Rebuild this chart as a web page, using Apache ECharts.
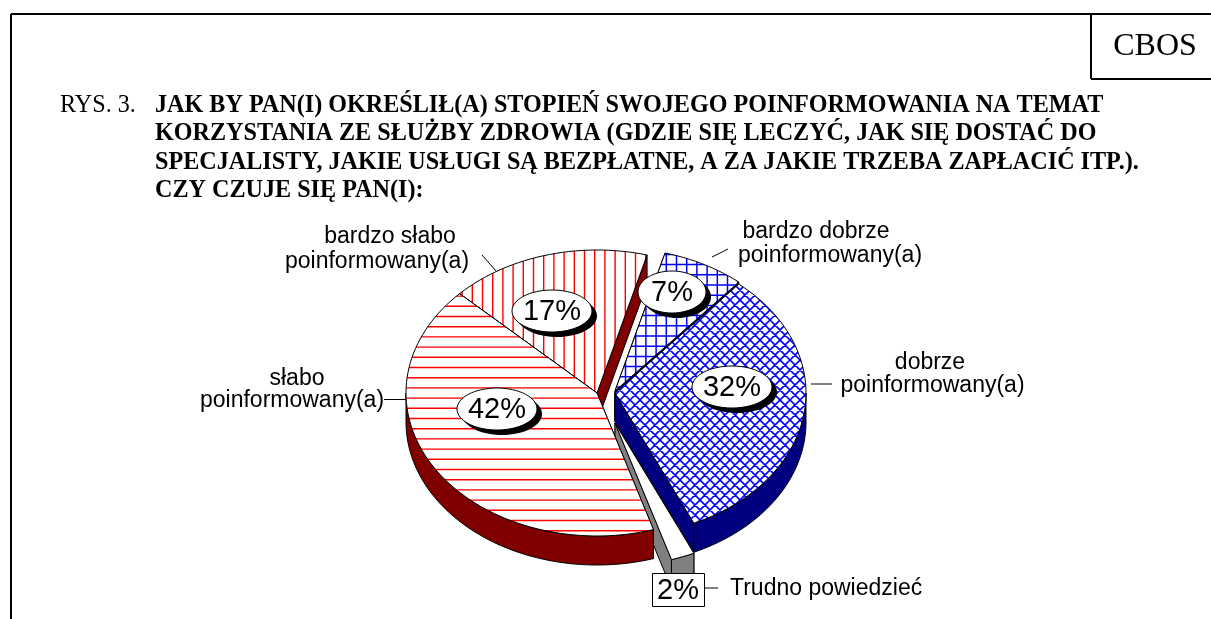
<!DOCTYPE html>
<html>
<head>
<meta charset="utf-8">
<style>
  html, body { margin: 0; padding: 0; background: #fff; }
  #chart { width: 1211px; height: 619px; }
</style>
<script src="https://cdn.jsdelivr.net/npm/echarts@6/dist/echarts.min.js"></script>
</head>
<body>
<div id="chart"></div>
<script>
// dane (kolejność zgodna z ruchem wskazówek zegara)
const categories = ['bardzo dobrze poinformowany(a)', 'dobrze poinformowany(a)', 'Trudno powiedzieć', 'słabo poinformowany(a)', 'bardzo słabo poinformowany(a)']
const values = [7, 32, 2, 42, 17]
const titleLines = [
  'JAK BY PAN(I) OKREŚLIŁ(A) STOPIEŃ SWOJEGO POINFORMOWANIA NA TEMAT',
  'KORZYSTANIA ZE SŁUŻBY ZDROWIA (GDZIE SIĘ LECZYĆ, JAK SIĘ DOSTAĆ DO',
  'SPECJALISTY, JAKIE USŁUGI SĄ BEZPŁATNE, A ZA JAKIE TRZEBA ZAPŁACIĆ ITP.).',
  'CZY CZUJE SIĘ PAN(I):'
]

// geometria elipsy i wysunięcia wycinków
const radiusX = 191
const radiusY = 143
const depth = 29
const startAngle = 15.2
const centers = [[615, 391], [615, 393], [615, 423], [597, 393], [597, 393]]
const sideColors = ['#000080', '#000080', '#808080', '#800000', '#800000']
const drawOrder = [0, 4, 2, 1, 3]

// szrafury jako powtarzalne wzorki
const makeHatch = (color, size, lineWidth, draw) => {
  const canvas = document.createElement('canvas')
  canvas.width = size
  canvas.height = size
  const ctx = canvas.getContext('2d')
  ctx.fillStyle = '#fff'
  ctx.fillRect(0, 0, size, size)
  ctx.strokeStyle = color
  ctx.lineWidth = lineWidth
  ctx.beginPath()
  draw(ctx, size)
  ctx.stroke()
  return { image: canvas, repeat: 'repeat' }
}
const hLines = (ctx, size, phase) => {
  for (let i = 0; i < 6; i++) {
    const y = phase + i * size / 5
    ctx.moveTo(0, y)
    ctx.lineTo(size, y)
  }
}
const vLines = (ctx, size, phase) => {
  for (let i = 0; i < 6; i++) {
    const x = phase + i * size / 5
    ctx.moveTo(x, 0)
    ctx.lineTo(x, size)
  }
}
const diagLines = (ctx, size) => {
  for (let i = -4; i <= 4; i++) {
    const d = i * size / 2
    ctx.moveTo(d, 0)
    ctx.lineTo(d + size, size)
    ctx.moveTo(d + size, 0)
    ctx.lineTo(d, size)
  }
}
const fills = [
  makeHatch('#0000ff', 51, 1.5, (c, s) => { hLines(c, s, 9.6 - 10.2); vLines(c, s, 3.3) }),
  makeHatch('#0000ff', 20, 1.6, diagLines),
  '#ffffff',
  makeHatch('#ff0000', 51, 1.4, (c, s) => hLines(c, s, 0.3)),
  makeHatch('#ff0000', 51, 1.4, (c, s) => vLines(c, s, 3.1))
]

// kąty wycinków liczone z wartości
const total = values.reduce((a, b) => a + b, 0)
const angles = []
let acc = startAngle
values.forEach((v) => {
  angles.push([acc, acc + v / total * 360])
  acc += v / total * 360
})

const onEllipse = (c, t, dy) => {
  const rad = t * Math.PI / 180
  return [c[0] + radiusX * Math.sin(rad), c[1] - radiusY * Math.cos(rad) + (dy || 0)]
}
const arcPoints = (c, t0, t1, dy) => {
  const pts = []
  const steps = Math.max(2, Math.ceil((t1 - t0) / 2))
  for (let i = 0; i <= steps; i++) {
    pts.push(onEllipse(c, t0 + (t1 - t0) * i / steps, dy))
  }
  return pts
}
const poly = (points, fill) => ({
  type: 'polygon',
  shape: { points },
  style: { fill, stroke: '#000', lineWidth: 1 }
})

const renderSlice = (params, api) => {
  const i = api.value(0)
  const c = centers[i]
  const [t0, t1] = angles[i]
  const side = sideColors[i]
  const children = []
  // boczne ścianki przy cięciach
  ;[t0, t1].forEach((t) => {
    const p = onEllipse(c, t)
    children.push(poly([c, p, [p[0], p[1] + depth], [c[0], c[1] + depth]], side))
  })
  // zewnętrzna ścianka, tylko przednia część
  const a = Math.max(t0, 90)
  const b = Math.min(t1, 270)
  if (b > a) {
    const top = arcPoints(c, a, b, 0)
    const bottom = arcPoints(c, a, b, depth).reverse()
    children.push(poly(top.concat(bottom), side))
  }
  // wierzch wycinka
  children.push(poly([c].concat(arcPoints(c, t0, t1, 0)), fills[i]))
  return { type: 'group', children }
}

// etykiety procentowe w dymkach
const bubbles = [
  { i: 0, x: 672, y: 292, rx: 34 },
  { i: 1, x: 732, y: 387, rx: 40 },
  { i: 3, x: 497, y: 409, rx: 40 },
  { i: 4, x: 552, y: 311, rx: 40 }
]
const textStyle = (text, x, y, extra) => ({
  type: 'text',
  x,
  y,
  silent: true,
  style: Object.assign({
    text,
    fill: '#000',
    font: '23px "Liberation Sans"',
    align: 'center',
    verticalAlign: 'middle'
  }, extra)
})
const bubbleFont = { font: '29px "Liberation Sans"' }
const bubbleGraphics = []
bubbles.forEach((b) => {
  bubbleGraphics.push({ type: 'ellipse', silent: true, shape: { cx: b.x + 5, cy: b.y + 5, rx: b.rx, ry: 21 }, style: { fill: '#000' } })
  bubbleGraphics.push({ type: 'ellipse', silent: true, shape: { cx: b.x, cy: b.y, rx: b.rx, ry: 21 }, style: { fill: '#fff', stroke: '#000', lineWidth: 1 } })
  bubbleGraphics.push(textStyle(values[b.i] + '%', b.x, b.y + 1, bubbleFont))
})

const leader = (x1, y1, x2, y2) => ({
  type: 'line',
  silent: true,
  shape: { x1, y1, x2, y2 },
  style: { stroke: '#000', lineWidth: 1 }
})
const rule = (x1, y1, x2, y2) => ({
  type: 'line',
  silent: true,
  shape: { x1, y1, x2, y2 },
  style: { stroke: '#000', lineWidth: 2 }
})

const titleFont = { font: 'bold 24.15px "Liberation Serif"', align: 'left' }
const elements = [
  rule(11, 14, 1211, 14),
  rule(11, 14, 11, 619),
  rule(1091, 14, 1091, 79),
  rule(1091, 79, 1211, 79),
  textStyle('CBOS', 1155, 47, { font: '32px "Liberation Serif"' }),
  textStyle('RYS. 3.', 60, 106, { font: '24.15px "Liberation Serif"', align: 'left' })
]
titleLines.forEach((line, i) => {
  elements.push(textStyle(line, 155, [106, 134, 163, 191][i], titleFont))
})
elements.push(
  textStyle('bardzo słabo', 390, 237),
  textStyle('poinformowany(a)', 377, 262),
  leader(482, 255, 496, 271),
  textStyle('bardzo dobrze', 816, 232),
  textStyle('poinformowany(a)', 830, 256),
  leader(712, 257, 728, 249),
  textStyle('dobrze', 930, 363),
  textStyle('poinformowany(a)', 932.5, 386),
  leader(811, 384, 832, 384),
  textStyle('słabo', 297, 379),
  textStyle('poinformowany(a)', 292, 401),
  leader(384, 399.5, 406, 399.5)
)
elements.push(...bubbleGraphics)
elements.push(
  { type: 'rect', silent: true, shape: { x: 652.5, y: 573.5, width: 52, height: 33 }, style: { fill: '#fff', stroke: '#000', lineWidth: 1 } },
  textStyle(values[2] + '%', 678, 591, bubbleFont),
  leader(705, 588, 718, 588),
  textStyle(categories[2], 730, 589, { align: 'left' })
)

const myChart = echarts.init(document.getElementById('chart'), null, { renderer: 'canvas' })
myChart.setOption({
  animation: false,
  backgroundColor: '#fff',
  series: [
    {
      type: 'custom',
      coordinateSystem: 'none',
      silent: true,
      z: 1,
      data: drawOrder.map((i) => [i, values[i]]),
      renderItem: renderSlice
    }
  ],
  graphic: { elements: elements.map((e) => Object.assign({ z: 10 }, e)) }
})
</script>
</body>
</html>
